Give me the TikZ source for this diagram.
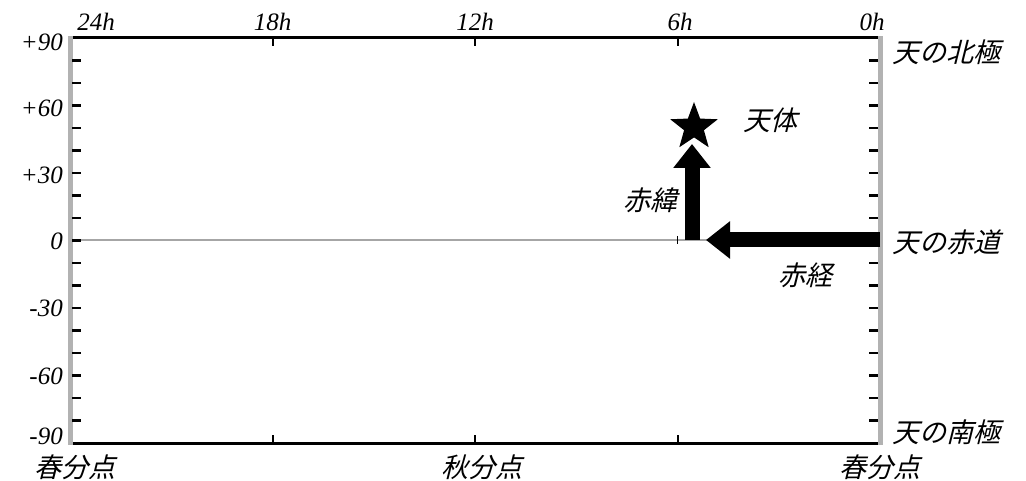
\documentclass[tikz,border=0pt]{standalone}
\usepackage{fontspec}
\setmainfont{Liberation Serif}
\newfontfamily\jp{Noto Sans CJK JP}[FakeSlant=0.25]
\usetikzlibrary{shapes.geometric,arrows.meta}
\tikzset{
  num/.style={font=\fontsize{25}{25}\selectfont\itshape, inner sep=0pt},
  jlab/.style={font=\fontsize{27}{27}\selectfont\jp, inner sep=0pt},
  axisgray/.style={draw=gray!60, line width=5pt},
  axisblack/.style={draw=black, line width=3pt},
  tick/.style={draw=black, line width=2.5pt},
  bigarrow/.style={line width=15pt, -{Triangle[width=36pt,length=24pt]}},
}
\begin{document}
\begin{tikzpicture}[x=1pt,y=-1pt]
\useasboundingbox (0,0) rectangle (1026,481);
% equator line
\draw[gray!70, line width=1.2pt] (70,240) -- (880,240);
% frame
\draw[axisblack] (70,38) -- (880,38);
\draw[axisblack] (70,443) -- (880,443);
\draw[axisgray] (70,36.5) -- (70,444.5);
\draw[axisgray] (880,36.5) -- (880,444.5);
% y ticks every 10 degrees
\foreach \i in {1,...,17} {
  \draw[tick] (72,{38+22.5*\i}) -- (81,{38+22.5*\i});
  \draw[tick] (878,{38+22.5*\i}) -- (869,{38+22.5*\i});
}
% x ticks at 18h, 12h, 6h
\foreach \x in {272.5,475,677.5} {
  \draw[tick, line width=2pt] (\x,39) -- (\x,46);
  \draw[tick, line width=2pt] (\x,442) -- (\x,435);
}
\draw[tick, line width=1.5pt] (677.5,236) -- (677.5,244);
% top labels
\node[num] (h24) at (96,22) {24h};
\node[num] (h18) at (272.5,22) {18h};
\node[num] (h12) at (475,22) {12h};
\node[num] (h6) at (680,22) {6h};
\node[num] (h0) at (872,22) {0h};
% left labels
\node[num, anchor=east] (d90) at (63,42) {+90};
\node[num, anchor=east] (d60) at (63,108) {+60};
\node[num, anchor=east] (d30) at (63,175) {+30};
\node[num, anchor=east] (d0) at (63,241) {0};
\node[num, anchor=east] (dm30) at (63,308) {-30};
\node[num, anchor=east] (dm60) at (63,376) {-60};
\node[num, anchor=east] (dm90) at (63,436) {-90};
% right labels
\node[jlab, anchor=west] (np) at (892,52) {天の北極};
\node[jlab, anchor=west] (eq) at (892,242) {天の赤道};
\node[jlab, anchor=west] (sp) at (892,432) {天の南極};
% bottom labels
\node[jlab] (v1) at (75,467) {春分点};
\node[jlab] (au) at (482,467) {秋分点};
\node[jlab] (v2) at (880,467) {春分点};
% arrows
\coordinate (ra0) at (880,240);
\coordinate (ra1) at (706,240);
\coordinate (de0) at (692,240);
\coordinate (de1) at (692,144);
\draw[bigarrow] (ra0) -- (ra1);
\draw[bigarrow] (de0) -- (de1);
% star
\node[star, star points=5, star point ratio=2.4, fill=black, minimum size=50pt, inner sep=0pt] (obj) at (694,127) {};
\node[jlab] (tl) at (770,120) {天体};
\node[jlab] (dl) at (650,200) {赤緯};
\node[jlab] (rl) at (805,275) {赤経};
\end{tikzpicture}
\end{document}
